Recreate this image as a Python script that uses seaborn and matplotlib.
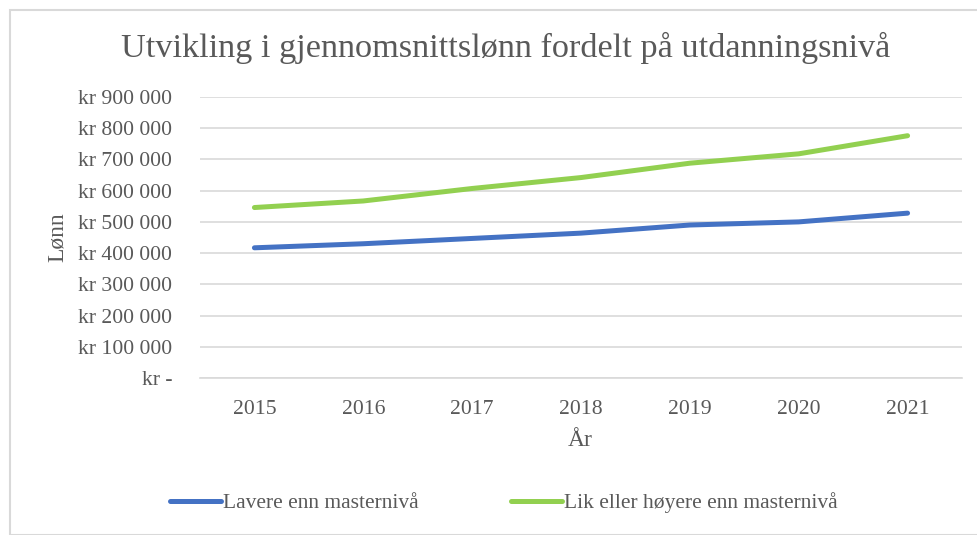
import matplotlib
matplotlib.use("Agg")
import matplotlib.pyplot as plt
import seaborn as sns
import pandas as pd
from matplotlib.patches import Rectangle
from matplotlib.lines import Line2D

years = ["2015", "2016", "2017", "2018", "2019", "2020", "2021"]
lavere = [417000, 430000, 447000, 464000, 490000, 500000, 528000]
hoyere = [546000, 567000, 607000, 642000, 688000, 718000, 776000]
series_names = ["Lavere enn masternivå", "Lik eller høyere enn masternivå"]
yticks = [0, 100000, 200000, 300000, 400000, 500000, 600000, 700000, 800000, 900000]

df = pd.DataFrame({
    "År": years * 2,
    "Lønn": lavere + hoyere,
    "serie": [series_names[0]] * len(years) + [series_names[1]] * len(years),
})
df["x"] = df["År"].map({y: i for i, y in enumerate(years)})

sns.set_theme(style="white")
plt.rcParams["font.family"] = ["Liberation Serif", "DejaVu Serif"]
txt = "#595959"

fig = plt.figure(figsize=(9.78, 5.35), dpi=100)
ax = fig.add_axes([200 / 978, 1 - 378 / 535, (962 - 200) / 978, (378 - 97) / 535])

sns.lineplot(data=df, x="x", y="Lønn", hue="serie",
             palette=["#4472C4", "#92D050"], linewidth=3.6,
             ax=ax, legend=False, solid_capstyle="round")

ax.set_xlim(-0.5, len(years) - 0.5)
ax.set_ylim(0, 900000)
ax.set_xticks(range(len(years)))
ax.set_xticklabels(years)
ax.set_yticks(yticks)


def fmt(v):
    if v == 0:
        return "kr -"
    return "kr " + f"{int(v):,}".replace(",", " ")


ax.set_yticklabels([fmt(v) for v in yticks])
ax.tick_params(axis="both", length=0, labelsize=15.6, colors=txt)
ax.tick_params(axis="y", pad=20)
ax.tick_params(axis="x", pad=16)
ax.grid(axis="y", color="#D9D9D9", linewidth=1.2)
for s in ["top", "right", "left"]:
    ax.spines[s].set_visible(False)
ax.spines["bottom"].set_color("#D9D9D9")
ax.spines["bottom"].set_linewidth(1.2)
ax.set_axisbelow(True)

ax.set_xlabel("")
ax.set_ylabel("")
fig.text(580 / 978, 1 - 440 / 535, "År", ha="center", va="center", fontsize=17, color=txt)
fig.text(57 / 978, 1 - 237 / 535, "Lønn", ha="center", va="center", rotation=90, fontsize=17, color=txt)
fig.text(506 / 978, 1 - 48 / 535, "Utvikling i gjennomsnittslønn fordelt på utdanningsnivå",
         ha="center", va="center", fontsize=24.7, color=txt)

handles = [Line2D([0], [0], color="#4472C4", lw=3.6),
           Line2D([0], [0], color="#92D050", lw=3.6)]
fig.legend(handles, series_names, loc="center", bbox_to_anchor=(504 / 978, 1 - 503 / 535),
           ncol=2, frameon=False, fontsize=15.5, labelcolor=txt, handlelength=2.35,
           handletextpad=0.1, columnspacing=4.3)

fig.patches.append(Rectangle((10 / 978, 0), 1.2, 1 - 10 / 535, transform=fig.transFigure,
                             fill=False, edgecolor="#D9D9D9", linewidth=1.5))

fig.savefig("out.png", dpi=100, facecolor="white")
